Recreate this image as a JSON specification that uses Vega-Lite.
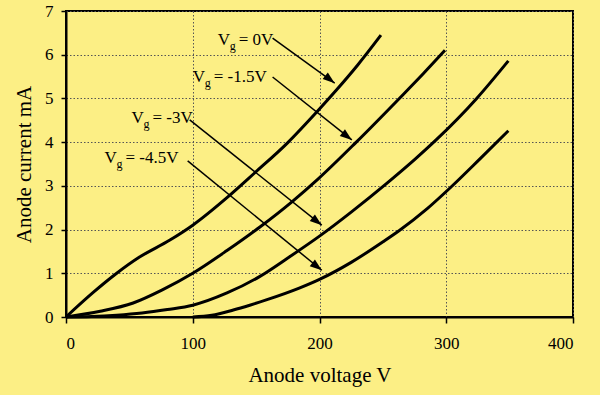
{
  "$schema": "https://vega.github.io/schema/vega-lite/v6.json",
  "width": 507,
  "height": 306,
  "autosize": {"type": "none"},
  "padding": {"left": 66, "top": 11, "right": 27, "bottom": 78},
  "background": "#FCEF85",
  "config": {
    "view": {"stroke": "black", "strokeWidth": 2},
    "font": "Liberation Serif",
    "axis": {
      "labelFont": "Liberation Serif",
      "titleFont": "Liberation Serif",
      "labelColor": "black",
      "titleColor": "black",
      "labelFontSize": 17,
      "titleFontSize": 21,
      "titleFontWeight": "normal",
      "domainColor": "black",
      "domainWidth": 2,
      "tickColor": "black",
      "tickWidth": 1.5,
      "gridColor": "#555555",
      "gridDash": [1.5, 2],
      "gridWidth": 1
    }
  },
  "datasets": {
    "curves": [
      {"vg": "0", "v": 0, "i": 0},
      {"vg": "0", "v": 21, "i": 0.55},
      {"vg": "0", "v": 40, "i": 1.0},
      {"vg": "0", "v": 58, "i": 1.37},
      {"vg": "0", "v": 82, "i": 1.76},
      {"vg": "0", "v": 100, "i": 2.1},
      {"vg": "0", "v": 127, "i": 2.73},
      {"vg": "0", "v": 149, "i": 3.3},
      {"vg": "0", "v": 175, "i": 3.99},
      {"vg": "0", "v": 197.5, "i": 4.68},
      {"vg": "0", "v": 213, "i": 5.18},
      {"vg": "0", "v": 230, "i": 5.76},
      {"vg": "0", "v": 248.5, "i": 6.45},
      {"vg": "-1.5", "v": 0, "i": 0},
      {"vg": "-1.5", "v": 27, "i": 0.13},
      {"vg": "-1.5", "v": 53, "i": 0.32},
      {"vg": "-1.5", "v": 76, "i": 0.62},
      {"vg": "-1.5", "v": 100, "i": 1.0},
      {"vg": "-1.5", "v": 127, "i": 1.52},
      {"vg": "-1.5", "v": 153, "i": 2.06},
      {"vg": "-1.5", "v": 178, "i": 2.63},
      {"vg": "-1.5", "v": 199, "i": 3.16},
      {"vg": "-1.5", "v": 229, "i": 4.0},
      {"vg": "-1.5", "v": 263, "i": 5.0},
      {"vg": "-1.5", "v": 282, "i": 5.57},
      {"vg": "-1.5", "v": 299, "i": 6.1},
      {"vg": "-3", "v": 0, "i": 0},
      {"vg": "-3", "v": 20, "i": 0.01},
      {"vg": "-3", "v": 40, "i": 0.04},
      {"vg": "-3", "v": 60, "i": 0.09},
      {"vg": "-3", "v": 80, "i": 0.17},
      {"vg": "-3", "v": 100, "i": 0.27},
      {"vg": "-3", "v": 127, "i": 0.55},
      {"vg": "-3", "v": 153, "i": 0.93},
      {"vg": "-3", "v": 175, "i": 1.35},
      {"vg": "-3", "v": 200, "i": 1.85},
      {"vg": "-3", "v": 225, "i": 2.4},
      {"vg": "-3", "v": 254, "i": 3.08},
      {"vg": "-3", "v": 275, "i": 3.6},
      {"vg": "-3", "v": 292, "i": 4.05},
      {"vg": "-3", "v": 324, "i": 5.0},
      {"vg": "-3", "v": 349, "i": 5.86},
      {"vg": "-4.5", "v": 100, "i": 0},
      {"vg": "-4.5", "v": 115, "i": 0.04},
      {"vg": "-4.5", "v": 132, "i": 0.16},
      {"vg": "-4.5", "v": 145, "i": 0.27},
      {"vg": "-4.5", "v": 158, "i": 0.39},
      {"vg": "-4.5", "v": 184, "i": 0.66},
      {"vg": "-4.5", "v": 200, "i": 0.86},
      {"vg": "-4.5", "v": 225, "i": 1.25},
      {"vg": "-4.5", "v": 250, "i": 1.72},
      {"vg": "-4.5", "v": 263, "i": 1.98},
      {"vg": "-4.5", "v": 285, "i": 2.48},
      {"vg": "-4.5", "v": 304, "i": 2.98},
      {"vg": "-4.5", "v": 326, "i": 3.6},
      {"vg": "-4.5", "v": 349, "i": 4.26}
    ],
    "arrows": [
      {"v": 163, "i": 6.38, "v2": 212, "i2": 5.35},
      {"v": 163, "i": 5.49, "v2": 225.5, "i2": 4.05},
      {"v": 97.6, "i": 4.51, "v2": 201.8, "i2": 2.1},
      {"v": 96, "i": 3.57, "v2": 201.8, "i2": 1.07}
    ],
    "labels": [
      {"v": 119.7, "i": 6.34, "sub": "g", "rest": "= 0V"},
      {"v": 100, "i": 5.49, "sub": "g", "rest": "= -1.5V"},
      {"v": 51.7, "i": 4.55, "sub": "g", "rest": "= -3V"},
      {"v": 30.4, "i": 3.64, "sub": "g", "rest": "= -4.5V"}
    ]
  },
  "layer": [
    {
      "data": {"name": "curves"},
      "mark": {"type": "line", "color": "black", "strokeWidth": 3, "interpolate": "monotone"},
      "encoding": {
        "x": {
          "field": "v", "type": "quantitative",
          "scale": {"domain": [0, 400], "nice": false},
          "axis": {"values": [0, 100, 200, 300, 400], "title": "Anode voltage V", "tickSize": 6, "labelPadding": 12, "titlePadding": 13, "grid": true}
        },
        "y": {
          "field": "i", "type": "quantitative",
          "scale": {"domain": [0, 7], "nice": false},
          "axis": {"values": [0, 1, 2, 3, 4, 5, 6, 7], "title": "Anode current mA", "tickSize": 5, "labelPadding": 8, "titlePadding": 10, "grid": true}
        },
        "detail": {"field": "vg", "type": "nominal"}
      }
    },
    {
      "data": {"name": "arrows"},
      "mark": {"type": "rule", "color": "black", "strokeWidth": 1.5},
      "encoding": {
        "x": {"field": "v", "type": "quantitative"},
        "y": {"field": "i", "type": "quantitative"},
        "x2": {"field": "v2"},
        "y2": {"field": "i2"}
      }
    },
    {
      "data": {"name": "arrows"},
      "mark": {"type": "point", "shape": "M0,0L0.7,2L-0.7,2Z", "filled": true, "color": "black", "opacity": 1, "size": 144, "angle": 128, "strokeWidth": 0},
      "encoding": {
        "x": {"field": "v2", "type": "quantitative"},
        "y": {"field": "i2", "type": "quantitative"}
      }
    },
    {
      "data": {"name": "labels"},
      "mark": {"type": "text", "text": "V", "align": "left", "baseline": "middle", "fontSize": 17, "font": "Liberation Serif", "color": "black"},
      "encoding": {
        "x": {"field": "v", "type": "quantitative"},
        "y": {"field": "i", "type": "quantitative"}
      }
    },
    {
      "data": {"name": "labels"},
      "mark": {"type": "text", "align": "left", "baseline": "middle", "fontSize": 12, "font": "Liberation Serif", "color": "black", "dx": 12, "dy": 6},
      "encoding": {
        "x": {"field": "v", "type": "quantitative"},
        "y": {"field": "i", "type": "quantitative"},
        "text": {"field": "sub"}
      }
    },
    {
      "data": {"name": "labels"},
      "mark": {"type": "text", "align": "left", "baseline": "middle", "fontSize": 17, "font": "Liberation Serif", "color": "black", "dx": 21},
      "encoding": {
        "x": {"field": "v", "type": "quantitative"},
        "y": {"field": "i", "type": "quantitative"},
        "text": {"field": "rest"}
      }
    }
  ]
}
